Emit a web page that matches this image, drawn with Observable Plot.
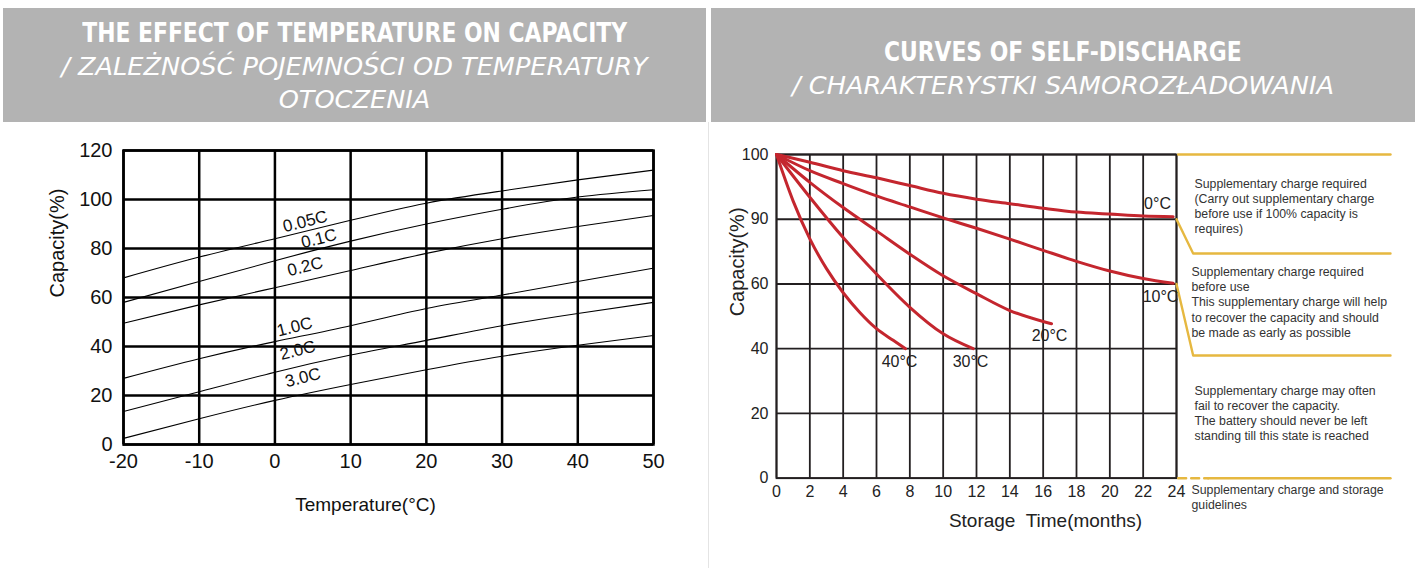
<!DOCTYPE html>
<html><head><meta charset="utf-8">
<script src="https://cdn.jsdelivr.net/npm/d3@7"></script>
<script src="https://cdn.jsdelivr.net/npm/@observablehq/plot@0.6"></script>
<style>
body{margin:0;width:1415px;height:568px;position:relative;background:#fff;overflow:hidden;font-family:"Liberation Sans",Arial,sans-serif}
.hdr{position:absolute;top:8px;height:114px;background:#b3b3b3;color:#fff;text-align:center;display:flex;flex-direction:column;justify-content:center;align-items:center}
.t1{display:inline-block;font-family:"Liberation Sans Narrow","DejaVu Sans Condensed",sans-serif;font-weight:bold;font-size:27px;line-height:34px;transform:scaleX(0.9);white-space:nowrap}
.t2{font-family:"DejaVu Sans",sans-serif;font-weight:200;font-style:italic;font-size:25.6px;line-height:33px;white-space:nowrap}
#sep{position:absolute;left:708px;top:122px;width:1px;height:446px;background:#e4e4e4}
#left{position:absolute;left:0;top:125px}
#right{position:absolute;left:711px;top:125px}
</style></head><body>
<div class="hdr" style="left:3px;width:703px;padding-top:2px;box-sizing:border-box"><div class="t1">THE EFFECT OF TEMPERATURE ON CAPACITY</div><div class="t2">/ ZALEŻNOŚĆ POJEMNOŚCI OD TEMPERATURY<br>OTOCZENIA</div></div>
<div class="hdr" style="left:711px;width:704px;padding-top:6px;box-sizing:border-box"><div class="t1">CURVES OF SELF-DISCHARGE</div><div class="t2">/ CHARAKTERYSTKI SAMOROZŁADOWANIA</div></div>
<div id="sep"></div>
<div id="left"></div>
<div id="right"></div>
<script>
// ---------- Left chart data: capacity vs temperature ----------
const temps = [-20, -10, 0, 10, 20, 30, 40, 50];
const rateNames = ["0.05C", "0.1C", "0.2C", "1.0C", "2.0C", "3.0C"];
const cap_005C = [68, 76.5, 84, 91.5, 98.5, 103.5, 108, 112];
const cap_01C = [58, 66.5, 75, 83, 90, 96, 101, 104];
const cap_02C = [49.5, 57, 64, 71, 78, 84, 89, 93.5];
const cap_10C = [27, 35, 42, 48.5, 55.5, 61, 66.5, 72];
const cap_20C = [13.5, 21.5, 29.5, 36.5, 42.5, 48.5, 53.5, 58];
const cap_30C = [2.5, 10.5, 18, 24.5, 30.5, 36, 40.5, 44.5];
const tempTicks = [-20, -10, 0, 10, 20, 30, 40, 50];
const capTicksL = [0, 20, 40, 60, 80, 100, 120];
const rateLabelTemp = [4, 5.8, 4, 2.6, 3, 3.7];
const rateLabelCap = [91, 84, 72.6, 48, 38.4, 27.3];

// ---------- Right chart data: self-discharge ----------
const sdNames = ["0°C", "10°C", "20°C", "30°C", "40°C"];
const sd_0C_month = [0, 2, 4, 6, 8, 10, 12, 14, 16, 18, 20, 22, 23.8];
const sd_0C_cap = [100, 98.8, 97.5, 96.4, 95.2, 94.0, 93.1, 92.4, 91.7, 91.1, 90.8, 90.5, 90.4];
const sd_10C_month = [0, 2, 4, 6, 8, 10, 12, 14, 16, 18, 20, 22, 23.8];
const sd_10C_cap = [100, 97.5, 95.5, 93.6, 91.9, 90.2, 85.8, 80.8, 75.6, 70.5, 66, 62.5, 60.3];
const sd_20C_month = [0, 2, 4, 6, 8, 10, 12, 14, 16, 16.5];
const sd_20C_cap = [100, 95.7, 91.8, 84.6, 73.8, 63.8, 57, 51.8, 48.4, 47.7];
const sd_30C_month = [0, 2, 4, 6, 8, 10, 11.8];
const sd_30C_cap = [100, 93.4, 81.5, 64.6, 52.8, 44.6, 40];
const sd_40C_month = [0, 1, 2, 3, 4, 5, 6, 7, 7.74];
const sd_40C_cap = [100, 92.8, 80.9, 67.1, 57.3, 51.2, 46.2, 42.6, 40];
const monthTicks = [0, 2, 4, 6, 8, 10, 12, 14, 16, 18, 20, 22, 24];
const capTicksR = [0, 20, 40, 60, 90, 100];
const sdLabelMonth = [22.86, 23.04, 16.38, 11.64, 7.38];
const sdLabelCap = [92.3, 56.1, 44.1, 36.0, 36.0];

// guide brackets (months, capacity) and notes
const guideNames = ["top", "mid", "low", "base"];
const guide_top_month = [24.1, 36.84];
const guide_top_cap = [100, 100];
const guide_mid_month = [24, 25, 36.84];
const guide_mid_cap = [90, 74.1, 74.1];
const guide_low_month = [24, 25, 36.84];
const guide_low_cap = [60, 37.9, 37.9];
const guide_base_month = [25.9, 36.84];
const guide_base_cap = [0, 0];
const guide_dash_month = [24.1, 25.9];
const guide_dash_cap = [0, 0];
const noteTexts = [
  "Supplementary charge required\n(Carry out supplementary charge\nbefore use if 100% capacity is\nrequires)",
  "Supplementary charge required\nbefore use\nThis supplementary charge will help\nto recover the capacity and should\nbe made as early as possible",
  "Supplementary charge may often\nfail to recover the capacity.\nThe battery should never be left\nstanding till this state is reached",
  "Supplementary charge and storage\nguidelines"
];
const noteMonth = [25.08, 24.9, 25.08, 24.9];
const noteCap = [92.1, 54.6, 20.3, -5.8];

// ---------- build tables ----------
const capSeries = [cap_005C, cap_01C, cap_02C, cap_10C, cap_20C, cap_30C];
const tableL = rateNames.flatMap((r, i) => temps.map((t, j) => ({rate: r, t, c: capSeries[i][j]})));
const labelsL = rateNames.map((r, i) => ({text: r, t: rateLabelTemp[i], c: rateLabelCap[i]}));

const sdM = [sd_0C_month, sd_10C_month, sd_20C_month, sd_30C_month, sd_40C_month];
const sdC = [sd_0C_cap, sd_10C_cap, sd_20C_cap, sd_30C_cap, sd_40C_cap];
const tableR = sdNames.flatMap((n, i) => sdM[i].map((m, j) => ({temp: n, m, c: sdC[i][j]})));
const labelsR = sdNames.map((n, i) => ({text: n, m: sdLabelMonth[i], c: sdLabelCap[i]}));

const gM = [guide_top_month, guide_mid_month, guide_low_month, guide_base_month];
const gC = [guide_top_cap, guide_mid_cap, guide_low_cap, guide_base_cap];
const guides = guideNames.flatMap((g, i) => gM[i].map((m, j) => ({g, m, c: gC[i][j]})));
const dashGuide = guide_dash_month.map((m, j) => ({m, c: guide_dash_cap[j]}));
const notes = noteTexts.map((t, i) => ({text: t, m: noteMonth[i], c: noteCap[i]}));

const plain = d => String(d);

// ---------- left chart ----------
const FONT = "Liberation Sans, Arial, sans-serif";
const left = Plot.plot({
  width: 705, height: 440,
  marginLeft: 123, marginRight: 52, marginTop: 25, marginBottom: 121,
  style: {fontFamily: FONT, fontSize: "20px", color: "#111", background: "transparent", overflow: "visible"},
  x: {domain: [-20, 50], ticks: tempTicks, tickFormat: plain, tickSize: 0, tickPadding: 9, label: null},
  y: {domain: [0, 120], ticks: capTicksL, tickFormat: plain, tickSize: 0, tickPadding: 11, label: null},
  marks: [
    Plot.ruleX(tempTicks, {stroke: "#000", strokeWidth: 2.5}),
    Plot.ruleY(capTicksL, {stroke: "#000", strokeWidth: 2.5}),
    Plot.frame({stroke: "#000", strokeWidth: 2.5}),
    Plot.line(tableL, {x: "t", y: "c", z: "rate", stroke: "#000", strokeWidth: 1.1, curve: "natural"}),
    Plot.text(labelsL, {x: "t", y: "c", text: "text", rotate: -14, fontSize: 17, fill: "#111"}),
    Plot.text(["Capacity(%)"], {frameAnchor: "left", dx: -66, rotate: -90, fontSize: 20, fill: "#111"}),
    Plot.text(["Temperature(°C)"], {frameAnchor: "bottom", dx: -23, dy: 66, fontSize: 19, fill: "#111"})
  ]
});
document.getElementById("left").appendChild(left);

// ---------- right chart ----------
const H = 440, mt = 29, mb = 87.3;
const yRange = d3.range(capTicksR.length).map(i => (H - mb) - i * (H - mb - mt) / (capTicksR.length - 1));
const right = Plot.plot({
  width: 704, height: H,
  marginLeft: 65, marginRight: 239, marginTop: mt, marginBottom: mb,
  style: {fontFamily: FONT, fontSize: "16px", color: "#222", background: "transparent", overflow: "visible"},
  x: {domain: [0, 24], ticks: monthTicks, tickFormat: plain, tickSize: 0, tickPadding: 7, label: null},
  y: {type: "linear", domain: capTicksR, range: yRange, ticks: capTicksR, tickFormat: plain, tickSize: 0, tickPadding: 8, label: null},
  marks: [
    Plot.ruleX(monthTicks, {stroke: "#231f20", strokeWidth: 1.8}),
    Plot.ruleY(capTicksR, {stroke: "#231f20", strokeWidth: 1.8}),
    Plot.frame({stroke: "#231f20", strokeWidth: 1.8}),
    Plot.line(guides, {x: "m", y: "c", z: "g", stroke: "#e6b840", strokeWidth: 2.4}),
    Plot.line(dashGuide, {x: "m", y: "c", stroke: "#e6b840", strokeWidth: 2.4, strokeDasharray: "8,5"}),
    Plot.line(tableR, {x: "m", y: "c", z: "temp", stroke: "#c4262e", strokeWidth: 3, curve: "monotone-x"}),
    Plot.text(labelsR, {x: "m", y: "c", text: "text", fontSize: 16, fill: "#222"}),
    Plot.text(notes, {x: "m", y: "c", text: "text", textAnchor: "start", lineAnchor: "middle", lineHeight: 1.24, fontSize: 12.3, fill: "#333"}),
    Plot.text(["Capacity(%)"], {frameAnchor: "left", dx: -39, rotate: -90, fontSize: 20, fill: "#222"}),
    Plot.text(["Storage\u00a0 Time(months)"], {frameAnchor: "bottom", dx: 69, dy: 49, fontSize: 19, fill: "#222"})
  ]
});
document.getElementById("right").appendChild(right);
</script>
</body></html>
